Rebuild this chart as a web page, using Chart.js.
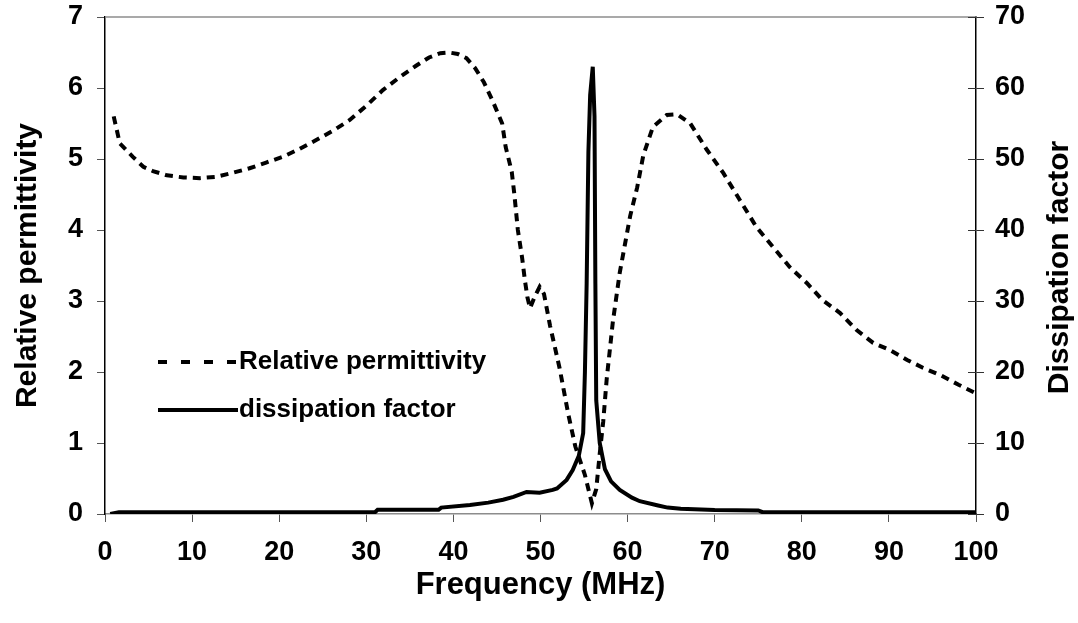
<!DOCTYPE html>
<html>
<head>
<meta charset="utf-8">
<script src="https://cdn.jsdelivr.net/npm/chart.js@4.4.1/dist/chart.umd.min.js"></script>
<style>
  html, body { margin: 0; padding: 0; background: #ffffff; }
  #wrap { width: 1078px; height: 623px; }
</style>
</head>
<body>
<div id="wrap"><canvas id="c" width="1078" height="623"></canvas></div>
<script>
// ---- data ----
const permFreq = [1, 1.7, 3.2, 4.4, 5.5, 7.1, 9, 10.9, 12.8, 14.5, 16.6, 18.5, 20.4, 22.3, 24.3, 26.2, 28.1, 30, 31.9, 33.8, 35.8, 37.2, 38.5, 39.5, 40.5, 41.5, 42.5, 43.5, 44.5, 45.6, 46, 46.7, 47, 47.4, 47.9, 48.2, 48.5, 48.8, 49.3, 49.9, 50.4, 51.1, 52.2, 53.2, 54, 55.1, 55.9, 56.4, 56.8, 57.2, 57.6, 58.3, 59.1, 60.3, 61.1, 61.8, 62.9, 64.5, 65.7, 67.2, 69.1, 71, 72.9, 74.8, 76.7, 78.6, 80.6, 82.4, 84.4, 86.3, 88.2, 90.1, 92.1, 93.9, 96, 98, 100];
const permValues = [5.6, 5.22, 5.03, 4.89, 4.83, 4.77, 4.74, 4.73, 4.75, 4.8, 4.87, 4.95, 5.03, 5.14, 5.27, 5.4, 5.55, 5.75, 5.97, 6.15, 6.32, 6.43, 6.49, 6.5, 6.48, 6.42, 6.28, 6.08, 5.82, 5.5, 5.17, 4.82, 4.5, 4.0, 3.6, 3.3, 3.05, 2.9, 3.05, 3.2, 3.1, 2.65, 2.05, 1.4, 0.95, 0.55, 0.15, 0.35, 0.85, 1.3, 1.9, 2.7, 3.4, 4.2, 4.6, 5.05, 5.45, 5.62, 5.63, 5.5, 5.13, 4.8, 4.42, 4.04, 3.76, 3.48, 3.25, 3.01, 2.83, 2.59, 2.41, 2.31, 2.17, 2.06, 1.95, 1.82, 1.7];

const dissFreq = [0.6, 1.6, 10, 20, 31, 31.3, 38.3, 38.6, 41.9, 44, 45.7, 46.9, 48.4, 49.9, 51.4, 51.9, 53, 53.7, 54.4, 54.9, 55.1, 55.3, 55.5, 55.7, 56, 56.2, 56.3, 56.4, 56.8, 57.4, 58.1, 59.1, 60.5, 61.4, 63.5, 64.6, 66.1, 70, 75, 75.5, 100];
const dissValues = [0, 0.25, 0.25, 0.25, 0.25, 0.6, 0.6, 0.9, 1.27, 1.6, 2.0, 2.4, 3.1, 3.0, 3.4, 3.6, 4.8, 6.2, 8.2, 11.4, 20, 32.5, 51, 59, 63, 56, 32.5, 16, 10, 6.3, 4.6, 3.4, 2.3, 1.8, 1.2, 0.9, 0.75, 0.55, 0.5, 0.25, 0.25];

const seriesNames = ["Relative permittivity", "dissipation factor"];
const xTitle = "Frequency (MHz)";
const yLeftTitle = "Relative permittivity";
const yRightTitle = "Dissipation factor";

// ---- chart ----
const FONT = "'Liberation Sans', Arial, sans-serif";
const permPoints = permFreq.map((f, i) => ({ x: f, y: permValues[i] }));
const dissPoints = dissFreq.map((f, i) => ({ x: f, y: dissValues[i] }));

const extras = {
  id: 'extras',
  afterDraw(chart) {
    const ctx = chart.ctx;
    const a = chart.chartArea;
    const y1 = chart.scales.y1;
    ctx.save();
    // top frame line
    ctx.strokeStyle = '#8c8c8c';
    ctx.lineWidth = 1.5;
    ctx.beginPath();
    ctx.moveTo(a.left, a.top);
    ctx.lineTo(a.right, a.top);
    ctx.stroke();
    // inner half of right-axis tick marks
    ctx.strokeStyle = '#333';
    ctx.lineWidth = 1;
    y1.ticks.forEach((t) => {
      const py = Math.round(y1.getPixelForValue(t.value)) + 0.5;
      ctx.beginPath();
      ctx.moveTo(a.right - 8, py);
      ctx.lineTo(a.right, py);
      ctx.stroke();
    });
    // right axis title (reads bottom to top)
    ctx.fillStyle = '#000';
    ctx.font = 'bold 30px ' + FONT;
    ctx.textAlign = 'center';
    ctx.textBaseline = 'middle';
    ctx.translate(1060, (a.top + a.bottom) / 2 + 2);
    ctx.rotate(-Math.PI / 2);
    ctx.fillText(yRightTitle, 0, 0);
    ctx.restore();

    // legend
    ctx.save();
    ctx.font = 'bold 26px ' + FONT;
    ctx.fillStyle = '#000';
    ctx.textAlign = 'left';
    ctx.textBaseline = 'middle';
    const rows = [
      { label: seriesNames[0], dash: [9, 14], y: 362 },
      { label: seriesNames[1], dash: [], y: 410 }
    ];
    rows.forEach((r) => {
      ctx.strokeStyle = '#000';
      ctx.lineWidth = 4;
      ctx.setLineDash(r.dash);
      ctx.beginPath();
      ctx.moveTo(158, r.y);
      ctx.lineTo(238, r.y);
      ctx.stroke();
      ctx.setLineDash([]);
      ctx.fillText(r.label, 239, r.y);
    });
    ctx.restore();
  }
};

new Chart(document.getElementById('c'), {
  type: 'line',
  data: {
    datasets: [
      {
        label: seriesNames[0],
        data: permPoints,
        yAxisID: 'y',
        borderColor: '#000',
        borderWidth: 4,
        borderDash: [8, 6],
        pointRadius: 0,
        tension: 0,
        fill: false
      },
      {
        label: seriesNames[1],
        data: dissPoints,
        yAxisID: 'y1',
        borderColor: '#000',
        borderWidth: 4,
        pointRadius: 0,
        tension: 0,
        fill: false
      }
    ]
  },
  options: {
    responsive: false,
    animation: false,
    devicePixelRatio: 1,
    layout: { padding: { top: 17, left: 0, right: 0, bottom: 0 } },
    plugins: { legend: { display: false }, tooltip: { enabled: false } },
    scales: {
      x: {
        type: 'linear',
        min: 0, max: 100,
        afterFit: (s) => { s.height = 109; s.paddingLeft = 0; s.paddingRight = 0; },
        ticks: { stepSize: 10, color: '#000', padding: 14, font: { family: FONT, size: 27, weight: 'bold' } },
        grid: { drawOnChartArea: false, drawTicks: true, tickLength: 8, color: '#555' },
        border: { color: '#8c8c8c', width: 1.5 },
        title: { display: true, text: xTitle, color: '#000', font: { family: FONT, size: 31, weight: 'bold' }, padding: { top: 0, bottom: 19 } }
      },
      y: {
        position: 'left',
        min: 0, max: 7,
        afterFit: (s) => { s.width = 105; s.paddingTop = 0; s.paddingBottom = 0; },
        ticks: { stepSize: 1, color: '#000', padding: 14, font: { family: FONT, size: 27, weight: 'bold' } },
        grid: { drawOnChartArea: false, drawTicks: true, tickLength: 8, color: '#555' },
        border: { color: '#000', width: 1.5 },
        title: { display: true, text: yLeftTitle, color: '#000', font: { family: FONT, size: 30, weight: 'bold' }, padding: { top: 10, bottom: 0 } }
      },
      y1: {
        position: 'right',
        min: 0, max: 70,
        afterFit: (s) => { s.width = 102; s.paddingTop = 0; s.paddingBottom = 0; },
        ticks: { stepSize: 10, color: '#000', padding: 11, font: { family: FONT, size: 27, weight: 'bold' } },
        grid: { drawOnChartArea: false, drawTicks: true, tickLength: 8, color: '#333' },
        border: { color: '#000', width: 1.5 },
        title: { display: false }
      }
    }
  },
  plugins: [extras]
});
</script>
</body>
</html>
